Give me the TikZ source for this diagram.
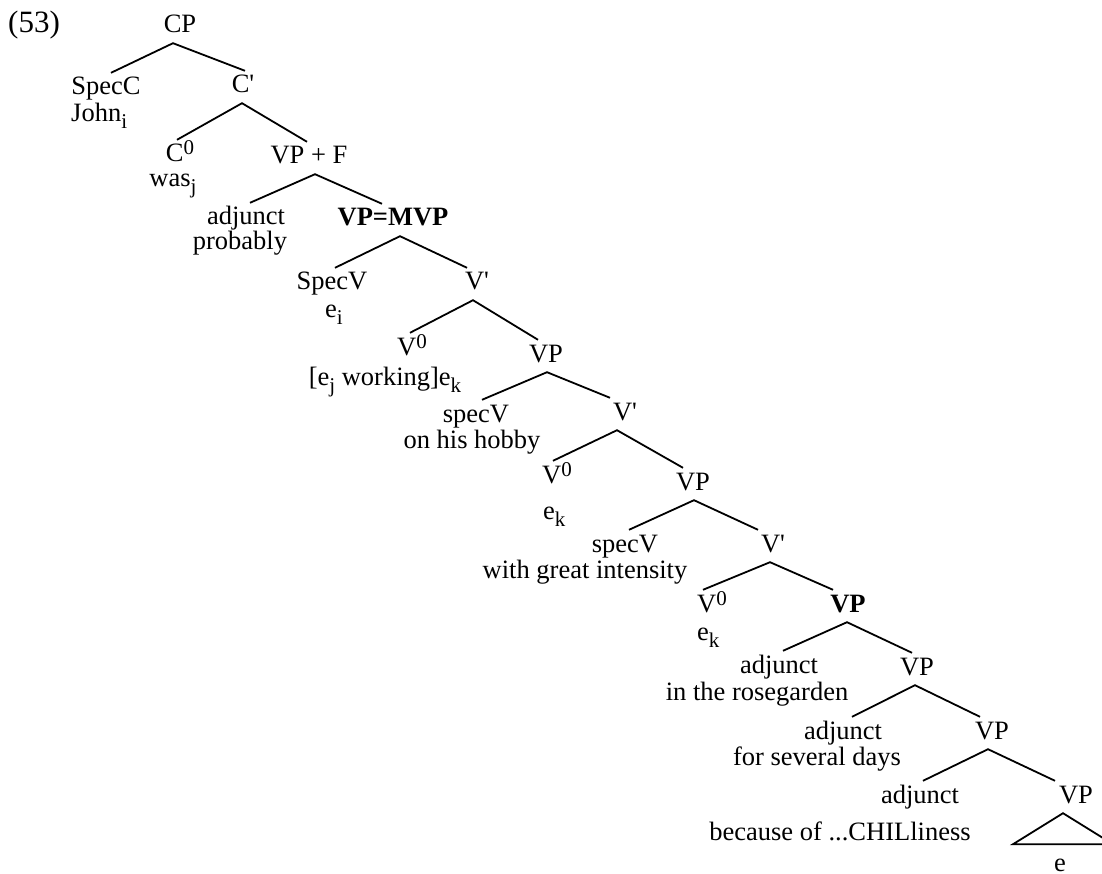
\documentclass[tikz,border=0pt]{standalone}
\usepackage{fontspec}
\setmainfont{Liberation Serif}
\newcommand\fs{\fontsize{26.5}{30}\selectfont}
\newcommand\Sup[1]{\raisebox{7pt}{\fontsize{21}{21}\selectfont #1}}
\newcommand\Sub[1]{\raisebox{-7pt}{\fontsize{21}{21}\selectfont #1}}
\newcommand\pr{\textquotesingle}
% parent, apex shift, left child, left shift, right child, right shift
\newcommand\tbranch[6]{%
  \draw[br] ([xshift=#4pt]#3.north) -- ([xshift=#2pt]#1.south) -- ([xshift=#6pt]#5.north);}
\tikzset{
  lab/.style={anchor=base,inner sep=0pt,text height=22pt,text depth=10pt,font=\fs},
  txt/.style={anchor=base,inner sep=0pt,font=\fs},
  br/.style={line width=1.8pt,line join=miter,line cap=butt},
}
\begin{document}
\begin{tikzpicture}[x=1pt,y=-1pt]
\useasboundingbox (0,0) rectangle (1102,874);
\clip (0,0) rectangle (1102,874);
\fill[white] (0,0) rectangle (1102,874);
\node[txt,font=\fontsize{31}{34}\selectfont,anchor=base west] (ex) at (8,33) {(53)};
\node[lab] (cp) at (180,33) {CP};
\node[lab] (specc) at (106,95) {SpecC};
\node[txt,anchor=base west] (john) at (71,122) {John\Sub{i}};
\node[lab] (cbar) at (243,93) {C\pr};
\node[lab] (c0) at (180,162) {C\Sup{0}};
\node[txt] (was) at (173,187) {was\Sub{j}};
\node[lab] (vpf) at (309,164) {VP + F};
\node[lab] (adj1) at (246,225) {adjunct};
\node[txt] (prob) at (240,250) {probably};
\node[lab,font=\fs\bfseries] (mvp) at (393,226) {VP=MVP};
\node[lab] (specv1) at (332,290) {SpecV};
\node[txt,anchor=base west] (ei) at (325,317) {e\Sub{i}};
\node[lab] (vbar1) at (477,290) {V\pr};
\node[lab] (v01) at (412,355) {V\Sup{0}};
\node[txt] (work) at (385,385) {[e\Sub{j} working]e\Sub{k}};
\node[lab] (vp1) at (546,362) {VP};
\node[lab] (specv2) at (476,422) {specV};
\node[txt] (hobby) at (472,448) {on his hobby};
\node[lab] (vbar2) at (625,420) {V\pr};
\node[lab] (v02) at (557,483) {V\Sup{0}};
\node[txt,anchor=base west] (ek1) at (543,519) {e\Sub{k}};
\node[lab] (vp2) at (693,490) {VP};
\node[lab] (specv3) at (625,552) {specV};
\node[txt] (inten) at (585,578) {with great intensity};
\node[lab] (vbar3) at (773,552) {V\pr};
\node[lab] (v03) at (712,612) {V\Sup{0}};
\node[txt,anchor=base west] (ek2) at (697,640) {e\Sub{k}};
\node[lab,font=\fs\bfseries] (vp3) at (848,612) {VP};
\node[lab] (adj2) at (779,673) {adjunct};
\node[txt] (rose) at (757,700) {in the rosegarden};
\node[lab] (vp4) at (917,675) {VP};
\node[lab] (adj3) at (843,739) {adjunct};
\node[txt] (days) at (817,765) {for several days};
\node[lab] (vp5) at (992,739) {VP};
\node[lab] (adj4) at (920,803) {adjunct};
\node[txt] (chil) at (840,840) {because of ...CHILliness};
\node[lab] (vp6) at (1076,803) {VP};
\node[txt] (e) at (1060,871) {e};
\tbranch{cp}{-7}{specc}{5}{cbar}{2}
\tbranch{cbar}{-1}{c0}{-3}{vpf}{-2}
\tbranch{vpf}{6}{adj1}{4}{mvp}{-11}
\tbranch{mvp}{7}{specv1}{3}{vbar1}{-10}
\tbranch{vbar1}{-4}{v01}{-2}{vp1}{-8}
\tbranch{vp1}{1}{specv2}{6}{vbar2}{-15}
\tbranch{vbar2}{-8}{v02}{-4}{vp2}{-10}
\tbranch{vp2}{1}{specv3}{4}{vbar3}{-15}
\tbranch{vbar3}{-3}{v03}{-9}{vp3}{-15}
\tbranch{vp3}{-1}{adj2}{4}{vp4}{-5}
\tbranch{vp4}{-2}{adj3}{9}{vp5}{-12}
\tbranch{vp5}{-4}{adj4}{3}{vp6}{-21}
\draw[br] ([xshift=-13pt]vp6.south) -- ++(-50,31) -- ++(100,0) -- cycle;
\end{tikzpicture}
\end{document}
